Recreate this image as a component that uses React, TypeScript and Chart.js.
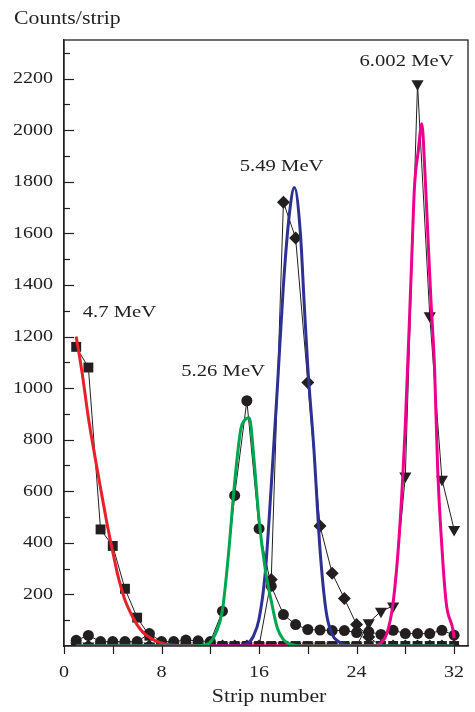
import React, { useEffect, useRef } from 'react';
import { Chart, registerables } from 'chart.js';

Chart.register(...registerables);

// ---------- data ----------
const strips = [1, 2, 3, 4, 5, 6, 7, 8, 9, 10, 11, 12, 13, 14, 15, 16, 17, 18, 19, 20, 21, 22, 23, 24, 25, 26, 27, 28, 29, 30, 31, 32];

const squares47 = [1160, 1080, 452, 388, 222, 110, 40, 0, 0, 0, 0, 0, 0, 0, 0, 0, 0, 0, 0, 0, 0, 0, 0, 0, 0, 0, 0, 0, 0, 0, 0, 0];
const circles526 = [22, 41, 17, 17, 17, 17, 48, 17, 17, 23, 20, 17, 135, 584, 951, 455, 232, 122, 83, 64, 62, 60, 60, 52, 55, 45, 61, 48, 48, 48, 61, 42];
const diamonds549 = [0, 0, 0, 0, 0, 0, 0, 0, 0, 0, 0, 0, 0, 0, 0, 0, 258, 1721, 1582, 1022, 465, 282, 184, 83, 35, 0, 0, 0, 0, 0, 0, 0];
const triangles6002 = [0, 0, 0, 0, 0, 0, 0, 0, 0, 0, 0, 0, 0, 0, 0, 0, 0, 0, 0, 0, 0, 0, 0, 0, 90, 135, 155, 659, 2180, 1281, 647, 452];

const redFitX = [1, 1.5, 2, 2.5, 3, 3.5, 4, 4.5, 5, 5.5, 6, 6.5, 7, 7.5, 8, 8.5, 9, 10, 32];
const redFitY = [1200, 1055, 885, 745, 612, 482, 365, 258, 178, 125, 82, 52, 34, 20, 12, 6, 3, 0, 0];

const greenFitX = [1, 10, 11, 11.5, 12, 12.5, 13, 13.5, 14, 14.5, 14.8, 15.2, 15.6, 16, 16.5, 17, 17.5, 18, 18.5, 19, 20, 32];
const greenFitY = [0, 0, 1, 4, 14, 55, 140, 360, 635, 840, 875, 885, 715, 490, 300, 175, 70, 25, 8, 2, 0, 0];

const blueFitX = [1, 14, 15, 15.5, 16, 16.5, 17, 17.5, 18, 18.5, 18.9, 19.4, 19.7, 20, 20.5, 21, 21.5, 22, 22.5, 23, 24, 32];
const blueFitY = [0, 0, 8, 35, 105, 280, 620, 1000, 1400, 1680, 1778, 1595, 1330, 1080, 763, 375, 135, 45, 18, 5, 0, 0];

const pinkFitX = [1, 25, 25.5, 26, 26.5, 27, 27.5, 28, 28.5, 28.75, 29.05, 29.35, 29.6, 29.85, 30.1, 30.4, 30.65, 30.95, 31.35, 31.9, 32];
const pinkFitY = [0, 0, 2, 12, 50, 168, 430, 860, 1470, 1780, 1915, 2025, 1845, 1591, 1340, 1074, 690, 420, 168, 64, 30];

const peakLabels = ['4.7 MeV', '5.26 MeV', '5.49 MeV', '6.002 MeV'];
const peakLabelX = [4.55, 13.05, 17.85, 28.1];
const peakLabelY = [1293, 1064, 1858, 2268];

const xTickValues = [0, 8, 16, 24, 32];
const yTickValues = [200, 400, 600, 800, 1000, 1200, 1400, 1600, 1800, 2000, 2200];

const yTitle = 'Counts/strip';
const xTitle = 'Strip number';

// ---------- style ----------
const INK = '#231f20';
const FONT = '"Liberation Serif", "Times New Roman", serif';
const SX = 1.18;

function pairs(xs: number[], ys: number[]) {
  return xs.map((x, i) => ({ x, y: ys[i] }));
}

function stretchedText(ctx: CanvasRenderingContext2D, s: string, x: number, y: number, align: CanvasTextAlign, size: number) {
  ctx.save();
  ctx.translate(x, y);
  ctx.scale(SX, 1);
  ctx.font = `${size}px ${FONT}`;
  ctx.fillStyle = INK;
  ctx.textAlign = align;
  ctx.textBaseline = 'middle';
  ctx.fillText(s, 0, 0);
  ctx.restore();
}

const decorPlugin = {
  id: 'decor',
  afterDraw(chart: any) {
    const { ctx, chartArea: a, scales } = chart;
    const xs = scales.x;
    const ys = scales.y;
    ctx.save();
    // frame
    ctx.strokeStyle = INK;
    ctx.lineWidth = 1.3;
    ctx.strokeRect(a.left, a.top, a.right - a.left, a.bottom - a.top);
    // inward y ticks every 100
    ctx.lineWidth = 1.2;
    for (let v = 100; v <= ys.max; v += 100) {
      const py = Math.round(ys.getPixelForValue(v)) + 0.5;
      const len = v % 200 === 0 ? 10 : 6;
      ctx.beginPath();
      ctx.moveTo(a.left, py);
      ctx.lineTo(a.left + len, py);
      ctx.stroke();
    }
    // outward x ticks every 4
    for (let v = 0; v <= 32; v += 4) {
      const px = Math.round(xs.getPixelForValue(v)) + 0.5;
      ctx.beginPath();
      ctx.moveTo(px, a.bottom);
      ctx.lineTo(px, a.bottom + 8);
      ctx.stroke();
    }
    // tick labels
    yTickValues.forEach((v) => {
      stretchedText(ctx, String(v), a.left - 11, ys.getPixelForValue(v), 'right', 17);
    });
    xTickValues.forEach((v) => {
      stretchedText(ctx, String(v), xs.getPixelForValue(v), a.bottom + 27, 'center', 17);
    });
    // titles
    stretchedText(ctx, yTitle, 14, 19, 'left', 18.5);
    stretchedText(ctx, xTitle, (xs.getPixelForValue(0) + xs.getPixelForValue(32)) / 2 + 10, 697, 'center', 18.5);
    // peak labels
    peakLabels.forEach((t, i) => {
      stretchedText(ctx, t, xs.getPixelForValue(peakLabelX[i]), ys.getPixelForValue(peakLabelY[i]), 'center', 17.5);
    });
    ctx.restore();
  },
};

export default function App() {
  const ref = useRef<HTMLCanvasElement>(null);
  useEffect(() => {
    document.body.style.margin = '0';
    const canvas = ref.current!;
    const markerLine = (label: string, data: number[], style: any, radius: number, rotation = 0, order = 10) => ({
      label,
      data: strips.map((s, i) => ({ x: s, y: data[i] })),
      borderColor: INK,
      backgroundColor: INK,
      borderWidth: 1,
      pointStyle: style,
      pointRadius: radius,
      pointRotation: rotation,
      pointBackgroundColor: INK,
      pointBorderColor: INK,
      pointBorderWidth: 0,
      tension: 0,
      order,
    });
    const fitLine = (label: string, xs: number[], ys: number[], color: string, order: number) => ({
      label,
      data: pairs(xs, ys),
      borderColor: color,
      backgroundColor: color,
      borderWidth: 3,
      pointRadius: 0,
      cubicInterpolationMode: 'monotone' as const,
      order,
    });
    const chart = new Chart(canvas, {
      type: 'line',
      data: {
        datasets: [
          fitLine('4.7 MeV fit', redFitX, redFitY, '#e8202a', 3),
          fitLine('5.49 MeV fit', blueFitX, blueFitY, '#2e3192', 2),
          fitLine('6.002 MeV fit', pinkFitX, pinkFitY, '#ec008c', 1),
          fitLine('5.26 MeV fit', greenFitX, greenFitY, '#00a650', 0),
          markerLine('4.7 MeV', squares47, 'rect', 7, 0, 7),
          markerLine('5.26 MeV', circles526, 'circle', 5.5, 0, 6),
          markerLine('5.49 MeV', diamonds549, 'rectRot', 6.5, 0, 5),
          markerLine('6.002 MeV', triangles6002, 'triangle', 7, 180, 4),
        ] as any,
      },
      options: {
        responsive: false,
        animation: false,
        devicePixelRatio: 1,
        layout: { padding: { top: 40, right: 5, left: 0, bottom: 0 } },
        plugins: {
          legend: { display: false },
          tooltip: { enabled: false },
          title: { display: false },
        },
        scales: {
          x: {
            type: 'linear',
            min: 0,
            max: 33.14,
            ticks: { display: false, stepSize: 4, includeBounds: false },
            grid: { display: false, drawTicks: false },
            border: { display: true, color: INK, width: 1.3 },
            afterFit: (s: any) => { s.height = 66; },
          },
          y: {
            type: 'linear',
            min: 0,
            max: 2350,
            ticks: { display: false, stepSize: 200, includeBounds: false },
            grid: { display: false, drawTicks: false },
            border: { display: true, color: INK, width: 1.3 },
            afterFit: (s: any) => { s.width = 64; },
          },
        },
      } as any,
      plugins: [decorPlugin],
    });
    return () => chart.destroy();
  }, []);
  return (
    <div style={{ position: 'fixed', left: 0, top: 0, width: 475, height: 712, background: '#fff' }}>
      <canvas ref={ref} width={475} height={712} style={{ display: 'block' }} />
    </div>
  );
}
